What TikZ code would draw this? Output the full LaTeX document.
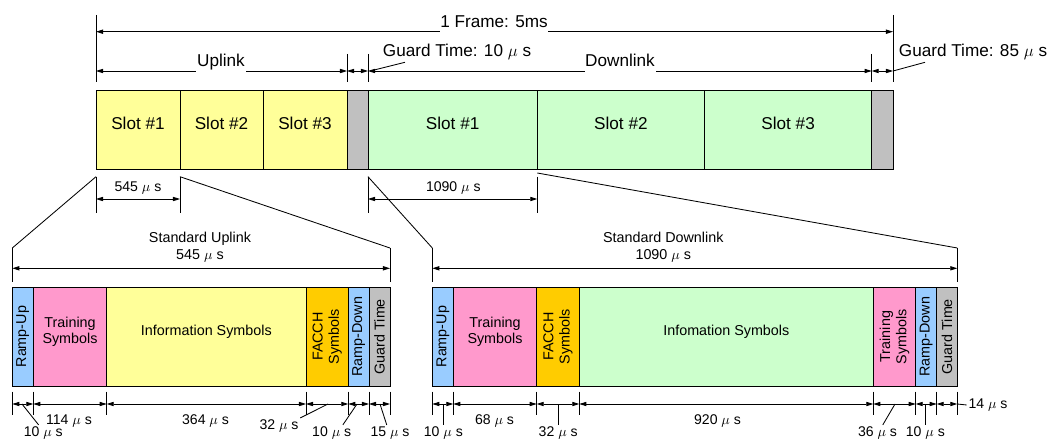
\documentclass[tikz,border=0pt]{standalone}
\usepackage{fontspec}
\setmainfont{Liberation Sans}
\usetikzlibrary{arrows.meta,fit}

\definecolor{upcol}{HTML}{FFFF99}
\definecolor{downcol}{HTML}{CCFFCC}
\definecolor{guardcol}{HTML}{C0C0C0}
\definecolor{rampcol}{HTML}{99CCFF}
\definecolor{traincol}{HTML}{FF99CC}
\definecolor{facchcol}{HTML}{FFCC00}

\begin{document}
\begin{tikzpicture}[x=0.025cm, y=-0.025cm, line width=0.6pt,
    dim/.style={<->, >={Triangle[length=5pt,width=3pt]}},
    bigtxt/.style={font=\fontsize{12.2}{14}\selectfont},
    smalltxt/.style={font=\fontsize{10.2}{11.5}\selectfont, align=center},
    hdr/.style={font=\fontsize{10.2}{12}\selectfont, align=center},
    dimtxt/.style={font=\fontsize{10}{12}\selectfont, inner sep=1pt},
    slot/.style={draw, fill=#1, inner sep=0pt, bigtxt},
    field/.style={draw, fill=#1, inner sep=0pt, smalltxt},
    vtext/.style={rotate=90, smalltxt},
    gap/.style={fill=white, inner xsep=0.5pt, inner ysep=1pt, text depth=3pt,
        anchor=base, bigtxt}]
    \useasboundingbox (0,0) rectangle (1050,440);

    % the 5ms frame
    \foreach \nm/\xa/\xb/\idx in {ul1/96/180/1, ul2/180/263/2, ul3/263/347/3}
        \node[slot=upcol, fit={(\xa,90.3) (\xb,169.3)}] (\nm) {Slot \#\idx};
    \node[slot=guardcol, fit={(347,90.3) (368,169.3)}] (gt1) {};
    \foreach \nm/\xa/\xb/\idx in {dl1/368/537.3/1, dl2/537.3/704.5/2, dl3/704.5/871.7/3}
        \node[slot=downcol, fit={(\xa,90.3) (\xb,169.3)}] (\nm) {Slot \#\idx};
    \node[slot=guardcol, fit={(871.7,90.3) (893,169.3)}] (gt2) {};

    % dimensions above the frame
    \draw (96,15) -- (96,82) (893,15) -- (893,82);
    \foreach \x in {347,368,871.7}
        \draw (\x,54) -- (\x,82);
    \draw[dim] (96,31.7) -- (893,31.7);
    \draw[dim] (96,71) -- (347,71);
    \draw[dim] (347,71) -- (368,71);
    \draw[dim] (368,71) -- (871.7,71);
    \draw[dim] (871.7,71) -- (893,71);
    \node[gap] (frlbl) at (494,27.3) {1 Frame: 5ms};
    \node[gap] (uplbl) at (221,66.6) {Uplink};
    \node[gap] (dnlbl) at (620,66.6) {Downlink};
    \node[bigtxt, anchor=base west, inner sep=0pt] (gt1lbl) at (382.5,57)
        {Guard Time: 10 $\mu$ s};
    \node[bigtxt, anchor=base west, inner sep=0pt] (gt2lbl) at (898.5,57)
        {Guard Time: 85 $\mu$ s};
    \draw (370,71) -- ([shift={(22.5,5.3)}]gt1lbl.base west);
    \draw (893,71) -- ([shift={(26.5,5.3)}]gt2lbl.base west);

    % slot widths below the frame
    \coordinate (ul-l) at (96,176.7);
    \coordinate (ul-r) at (180,176.7);
    \coordinate (dl-l) at (368,176.7);
    \coordinate (dl-r) at (537.3,173);
    \draw (ul-l) -- +(0,36) (ul-r) -- +(0,36);
    \draw[dim] (96,199) -- (180,199);
    \node[dimtxt] (ulw) at (138,188) {545 $\mu$ s};
    \draw (dl-l) -- +(0,36) (537.3,176.7) -- +(0,36);
    \draw[dim] (368,199) -- (537.3,199);
    \node[dimtxt] (dlw) at (453.3,188) {1090 $\mu$ s};

    % zoom lines down to the slot formats
    \coordinate (su-l) at (12.3,248);
    \coordinate (su-r) at (390,248);
    \coordinate (sd-l) at (432.3,248);
    \coordinate (sd-r) at (957.3,248);
    \draw (ul-l) -- (su-l) (ul-r) -- (su-r);
    \draw (dl-l) -- (sd-l) (dl-r) -- (sd-r);

    % standard uplink slot
    \node[hdr] (suhdr) at (200,247) {Standard Uplink\\545 $\mu$ s};
    \draw (su-l) -- +(0,33.7) (su-r) -- +(0,33.7);
    \draw[dim] (12.3,268.3) -- (390,268.3);
    \node[field=rampcol, fit={(12.3,287.3) (33.3,386)},
        label={[vtext]center:Ramp-Up}] (su1) {};
    \node[field=traincol, fit={(33.3,287.3) (106.7,386)}] (su2) {Training\\Symbols};
    \node[field=upcol, fit={(106.7,287.3) (306,386)}] (su3) {Information Symbols};
    \node[field=facchcol, fit={(306,287.3) (348.3,386)},
        label={[vtext]center:FACCH\\Symbols}] (su4) {};
    \node[field=rampcol, fit={(348.3,287.3) (369,386)},
        label={[vtext]center:Ramp-Down}] (su5) {};
    \node[field=guardcol, fit={(369,287.3) (390,386)},
        label={[vtext]center:Guard Time}] (su6) {};

    % standard downlink slot
    \node[hdr] (sdhdr) at (663.3,247) {Standard Downlink\\1090 $\mu$ s};
    \draw (sd-l) -- +(0,33.7) (sd-r) -- +(0,33.7);
    \draw[dim] (432.3,268.3) -- (957.3,268.3);
    \node[field=rampcol, fit={(432.3,287.3) (453.3,386)},
        label={[vtext]center:Ramp-Up}] (sd1) {};
    \node[field=traincol, fit={(453.3,287.3) (536.7,386)}] (sd2) {Training\\Symbols};
    \node[field=facchcol, fit={(536.7,287.3) (579.3,386)},
        label={[vtext]center:FACCH\\Symbols}] (sd3) {};
    \node[field=downcol, fit={(579.3,287.3) (873.3,386)}] (sd4) {Infomation Symbols};
    \node[field=traincol, fit={(873.3,287.3) (915.7,386)},
        label={[vtext]center:Training\\Symbols}] (sd5) {};
    \node[field=rampcol, fit={(915.7,287.3) (936.7,386)},
        label={[vtext]center:Ramp-Down}] (sd6) {};
    \node[field=guardcol, fit={(936.7,287.3) (957.3,386)},
        label={[vtext]center:Guard Time}] (sd7) {};

    % field durations
    \foreach \x in {12.3,33.3,106.7,306,348.3,369,390,
                    432.3,453.3,536.7,579.3,873.3,915.7,936.7,957.3}
        \draw (\x,391.7) -- (\x,415);
    \foreach \xa/\xb in {12.3/33.3,33.3/106.7,106.7/306,306/348.3,348.3/369,369/390,
                         432.3/453.3,453.3/536.7,536.7/579.3,579.3/873.3,
                         873.3/915.7,915.7/936.7,936.7/957.3}
        \draw[dim] (\xa,404) -- (\xb,404);

    \node[dimtxt] (u10a) at (43.3,433) {10 $\mu$ s};
    \node[dimtxt] (u114) at (69,421) {114 $\mu$ s};
    \node[dimtxt] (u364) at (205.5,421) {364 $\mu$ s};
    \node[dimtxt] (u32) at (279,426) {32 $\mu$ s};
    \node[dimtxt] (u10b) at (331.7,433) {10 $\mu$ s};
    \node[dimtxt] (u15) at (390,433) {15 $\mu$ s};
    \draw (22,404) -- (u10a.120);
    \draw (328,404) -- (u32.north east);
    \draw (357,404) -- (u10b.36);
    \draw (380,404) -- (u15.112);

    \node[dimtxt] (d10a) at (443.3,433) {10 $\mu$ s};
    \node[dimtxt] (d68) at (494.5,421) {68 $\mu$ s};
    \node[dimtxt] (d32) at (558.2,433) {32 $\mu$ s};
    \node[dimtxt] (d920) at (717.5,421) {920 $\mu$ s};
    \node[dimtxt] (d36) at (877.5,433) {36 $\mu$ s};
    \node[dimtxt] (d10b) at (925.3,433) {10 $\mu$ s};
    \node[dimtxt, anchor=west] (d14) at (966.7,405) {14 $\mu$ s};
    \draw (d10a.north) -- ++(0,-20.6);
    \draw (d32.north) -- ++(0,-20.6);
    \draw (895,404) -- (d36.57);
    \draw (d10b.north) -- ++(0,-20.6);
    \draw (957.3,404) -- (d14.west);
\end{tikzpicture}
\end{document}
